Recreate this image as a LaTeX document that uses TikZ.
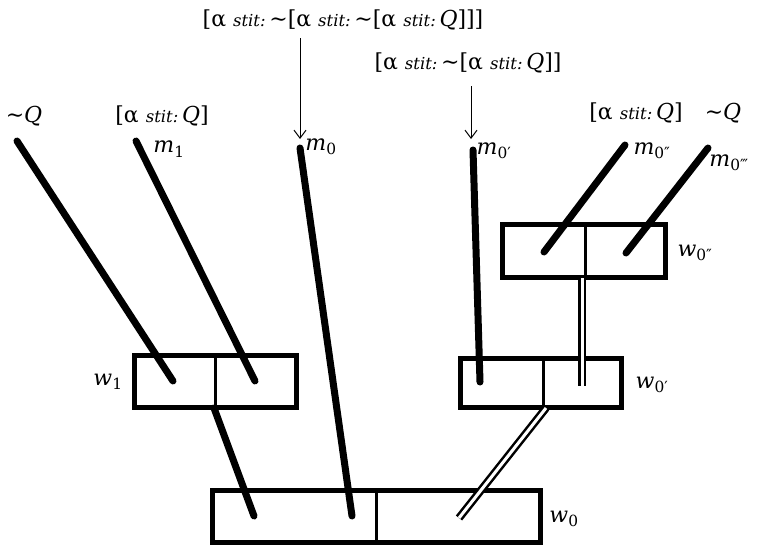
\documentclass[tikz,border=0pt]{standalone}
\usepackage{fontspec}
\setmainfont{DejaVu Serif}
\usetikzlibrary{arrows.meta}
\newcommand{\stt}{{\fontsize{16.5}{18}\selectfont\itshape stit:}}
\newcommand{\ngt}{\textasciitilde}
\newcommand{\sbs}[1]{\textsubscript{#1}}
\tikzset{
  wbox/.style={draw, line width=5pt, inner sep=0pt, rectangle},
  divline/.style={line width=3pt},
  stem/.style={line width=7pt, line cap=round},
  dstem/.style={double, line width=2.5pt, double distance=3pt, line cap=butt},
  lbl/.style={inner sep=0pt, font=\fontsize{22}{25}\selectfont},
  ptr/.style={line width=1pt, -{Straight Barb[length=8pt,width=12pt,line width=1pt]}},
}
\begin{document}
\begin{tikzpicture}[x=1pt,y=-1pt]
\useasboundingbox (0,0) rectangle (757,549);
% boxes
\node[wbox, minimum width=328pt, minimum height=52pt] (w0) at (376.5,516.5) {};
\node[wbox, minimum width=162pt, minimum height=52pt] (w1) at (215.5,381.5) {};
\node[wbox, minimum width=161pt, minimum height=49pt] (w0p) at (541,383) {};
\node[wbox, minimum width=163pt, minimum height=53pt] (w0pp) at (584,251) {};
\draw[divline] (376,490) -- (376,543);
\draw[divline] (215,355) -- (215,408);
\draw[divline] (543,358) -- (543,408);
\draw[divline] (585,224) -- (585,278);
% line end coordinates
\coordinate (tQ) at (17,141);
\coordinate (eQ) at (173,381);
\coordinate (tm1) at (136,141);
\coordinate (em1) at (255,381);
\coordinate (sw1) at (214,408);
\coordinate (ew1) at (254,516);
\coordinate (tm0) at (300,148);
\coordinate (em0) at (352,516);
\coordinate (tm0p) at (473,150);
\coordinate (em0p) at (480,382);
\coordinate (tm0pp) at (625,145);
\coordinate (em0pp) at (544,252);
\coordinate (tm0ppp) at (708,148);
\coordinate (em0ppp) at (626,253);
\coordinate (sd1) at (546,408);
\coordinate (ed1) at (459,518);
\coordinate (sd2) at (582,278);
\coordinate (ed2) at (582,386);
% stems
\draw[stem] (tQ) -- (eQ);
\draw[stem] (tm1) -- (em1);
\draw[stem] (sw1) -- (ew1);
\draw[stem] (tm0) -- (em0);
\draw[stem] (tm0p) -- (em0p);
\draw[stem] (tm0pp) -- (em0pp);
\draw[stem] (tm0ppp) -- (em0ppp);
\draw[dstem] (sd1) -- (ed1);
\draw[dstem] (sd2) -- (ed2);
% labels
\node[lbl] (lQ) at (24,116) {\ngt\textit{Q}};
\node[lbl] (lsQ) at (162,116) {[α \stt\,\textit{Q}]};
\node[lbl] (lm1) at (169,149) {\textit{m}\sbs{1}};
\node[lbl] (lm0) at (321,147) {\textit{m}\sbs{0}};
\node[lbl] (lm0p) at (494,151) {\textit{m}\sbs{0′}};
\node[lbl] (lm0pp) at (652,151) {\textit{m}\sbs{0″}};
\node[lbl] (lm0ppp) at (729,163) {\textit{m}\sbs{0‴}};
\node[lbl] (top1) at (343,20) {[α \stt\,\ngt[α \stt\,\ngt[α \stt\,\textit{Q}]]]};
\node[lbl] (top2) at (468,63) {[α \stt\,\ngt[α \stt\,\textit{Q}]]};
\node[lbl] (rsQ) at (636,113) {[α \stt\,\textit{Q}]};
\node[lbl] (rQ) at (723,113) {\ngt\textit{Q}};
\node[lbl] (lw1) at (108,382) {\textit{w}\sbs{1}};
\node[lbl] (lw0p) at (652,385) {\textit{w}\sbs{0′}};
\node[lbl] (lw0pp) at (695,253) {\textit{w}\sbs{0″}};
\node[lbl] (lw0) at (564,519) {\textit{w}\sbs{0}};
% pointers
\coordinate (p1s) at (300,38);
\coordinate (p1e) at (300,139);
\coordinate (p2s) at (471,86);
\coordinate (p2e) at (471,139);
\draw[ptr] (p1s) -- (p1e);
\draw[ptr] (p2s) -- (p2e);
\end{tikzpicture}
\end{document}
